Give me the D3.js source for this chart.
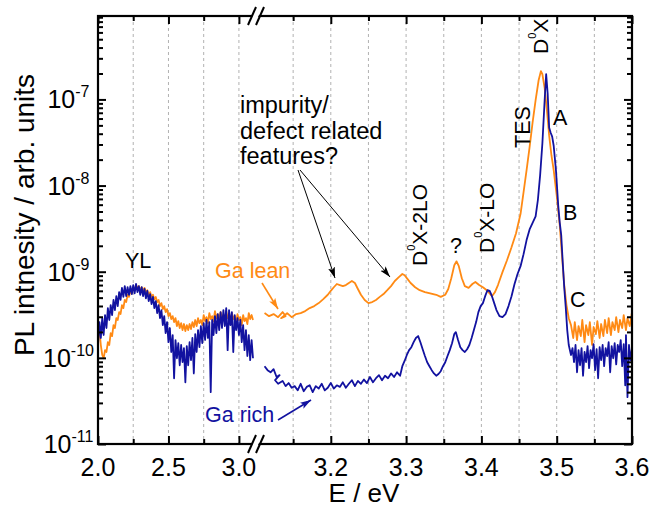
<!DOCTYPE html>
<html>
<head>
<meta charset="utf-8">
<script src="https://cdn.jsdelivr.net/npm/d3@7"></script>
<style>
  html, body { margin: 0; padding: 0; background: #fff; }
  svg { display: block; font-family: "Liberation Sans", Arial, Helvetica, sans-serif; }
</style>
</head>
<body>
<svg id="chart" width="651" height="510"></svg>
<script>
// PL spectra: [photon energy (eV), intensity (arb. units)]
// Low-energy window 2.0 - 3.1 eV (yellow luminescence band)
const gaLeanLow = [
  [2.00,1.84e-10],[2.01,2.10e-10],[2.02,1.41e-10],[2.03,1.08e-10],[2.04,9.9e-11],[2.05,1.23e-10],
  [2.06,1.17e-10],[2.07,1.52e-10],[2.08,1.41e-10],[2.09,1.94e-10],[2.10,1.79e-10],[2.11,2.40e-10],
  [2.12,2.22e-10],[2.13,2.89e-10],[2.14,2.75e-10],[2.15,3.40e-10],[2.16,3.22e-10],[2.17,4.10e-10],
  [2.18,3.78e-10],[2.19,4.70e-10],[2.20,4.44e-10],[2.21,5.40e-10],[2.22,5.10e-10],[2.23,6.00e-10],
  [2.24,5.60e-10],[2.25,6.50e-10],[2.26,6.10e-10],[2.27,7.00e-10],[2.28,6.50e-10],[2.29,6.80e-10],
  [2.30,6.10e-10],[2.31,6.60e-10],[2.32,6.00e-10],[2.33,6.50e-10],[2.34,5.80e-10],[2.35,6.10e-10],
  [2.36,5.40e-10],[2.37,5.80e-10],[2.38,5.10e-10],[2.39,5.40e-10],[2.40,4.80e-10],[2.41,5.10e-10],
  [2.42,4.44e-10],[2.43,4.70e-10],[2.44,3.99e-10],[2.45,4.32e-10],[2.46,3.68e-10],[2.47,3.99e-10],
  [2.48,3.40e-10],[2.49,3.68e-10],[2.50,3.05e-10],[2.51,3.31e-10],[2.52,2.82e-10],[2.53,3.05e-10],
  [2.54,2.60e-10],[2.55,2.89e-10],[2.56,2.34e-10],[2.57,2.67e-10],[2.58,2.22e-10],[2.59,2.53e-10],
  [2.60,2.10e-10],[2.61,2.47e-10],[2.62,2.05e-10],[2.63,2.40e-10],[2.64,2.10e-10],[2.65,2.47e-10],
  [2.66,2.16e-10],[2.67,2.60e-10],[2.68,2.28e-10],[2.69,2.75e-10],[2.70,2.34e-10],[2.71,2.89e-10],
  [2.72,2.53e-10],[2.73,2.75e-10],[2.74,2.40e-10],[2.75,3.14e-10],[2.76,2.67e-10],[2.77,2.97e-10],
  [2.78,2.53e-10],[2.79,3.31e-10],[2.80,2.82e-10],[2.81,3.05e-10],[2.82,2.67e-10],[2.83,3.49e-10],
  [2.84,2.89e-10],[2.85,3.22e-10],[2.86,2.75e-10],[2.87,3.40e-10],[2.88,2.97e-10],[2.89,3.14e-10],
  [2.90,2.67e-10],[2.91,3.49e-10],[2.92,2.89e-10],[2.93,3.22e-10],[2.94,2.60e-10],[2.95,3.31e-10],
  [2.96,2.82e-10],[2.97,3.05e-10],[2.98,2.53e-10],[2.99,3.22e-10],[3.00,2.75e-10],[3.01,2.97e-10],
  [3.02,2.40e-10],[3.03,3.14e-10],[3.04,2.67e-10],[3.05,2.89e-10],[3.06,2.47e-10],[3.07,3.31e-10],
  [3.08,2.82e-10],[3.09,3.14e-10],[3.10,2.75e-10]
];

const gaRichLow = [
  [2.00,1.41e-10],[2.01,2.60e-10],[2.02,1.70e-10],[2.03,2.89e-10],[2.04,1.84e-10],[2.05,3.14e-10],
  [2.06,2.22e-10],[2.07,3.78e-10],[2.08,2.75e-10],[2.09,4.10e-10],[2.10,3.14e-10],[2.11,4.70e-10],
  [2.12,3.59e-10],[2.13,5.20e-10],[2.14,3.99e-10],[2.15,5.80e-10],[2.16,4.70e-10],[2.17,6.50e-10],
  [2.18,5.10e-10],[2.19,6.80e-10],[2.20,5.20e-10],[2.21,6.60e-10],[2.22,5.40e-10],[2.23,6.80e-10],
  [2.24,5.50e-10],[2.25,7.00e-10],[2.26,5.60e-10],[2.27,7.20e-10],[2.28,5.80e-10],[2.29,6.80e-10],
  [2.30,5.40e-10],[2.31,6.60e-10],[2.32,5.20e-10],[2.33,6.30e-10],[2.34,4.90e-10],[2.35,6.00e-10],
  [2.36,4.56e-10],[2.37,5.50e-10],[2.38,4.21e-10],[2.39,5.10e-10],[2.40,3.78e-10],[2.41,4.56e-10],
  [2.42,3.31e-10],[2.43,4.10e-10],[2.44,2.89e-10],[2.45,3.59e-10],[2.46,2.40e-10],[2.47,3.05e-10],
  [2.48,1.94e-10],[2.49,2.60e-10],[2.50,1.52e-10],[2.51,2.22e-10],[2.52,1.17e-10],[2.53,1.84e-10],
  [2.54,5.8e-11],[2.55,1.61e-10],[2.56,9.9e-11],[2.57,1.48e-10],[2.58,8.2e-11],[2.59,1.41e-10],
  [2.60,8.9e-11],[2.61,1.30e-10],[2.62,5.2e-11],[2.63,1.37e-10],[2.64,8.2e-11],[2.65,1.52e-10],
  [2.66,9.4e-11],[2.67,1.70e-10],[2.68,6.6e-11],[2.69,1.89e-10],[2.70,1.17e-10],[2.71,2.10e-10],
  [2.72,1.33e-10],[2.73,2.34e-10],[2.74,1.48e-10],[2.75,2.53e-10],[2.76,1.61e-10],[2.77,2.75e-10],
  [2.78,1.70e-10],[2.79,2.60e-10],[2.80,4.0e-11],[2.81,2.75e-10],[2.82,1.84e-10],[2.83,3.05e-10],
  [2.84,1.94e-10],[2.85,3.22e-10],[2.86,2.10e-10],[2.87,3.40e-10],[2.88,2.22e-10],[2.89,3.59e-10],
  [2.90,2.34e-10],[2.91,3.78e-10],[2.92,1.23e-10],[2.93,3.59e-10],[2.94,2.40e-10],[2.95,3.40e-10],
  [2.96,1.17e-10],[2.97,3.14e-10],[2.98,2.10e-10],[2.99,2.89e-10],[3.00,1.84e-10],[3.01,2.75e-10],
  [3.02,1.52e-10],[3.03,2.40e-10],[3.04,1.23e-10],[3.05,2.10e-10],[3.06,1.05e-10],[3.07,1.84e-10],
  [3.08,9.4e-11],[3.09,1.61e-10],[3.10,9.9e-11]
];

// High-energy window 3.1 - 3.6 eV (near band edge)
const gaLeanHigh = [
  [3.112,3.31e-10],[3.118,3.05e-10],[3.124,3.22e-10],[3.130,2.97e-10],[3.136,3.40e-10],[3.140,3.05e-10],
  [3.134,2.89e-10],[3.142,3.31e-10],[3.148,2.97e-10],[3.154,3.22e-10],[3.160,3.31e-10],[3.166,3.49e-10],
  [3.172,3.78e-10],[3.178,3.99e-10],[3.184,4.32e-10],[3.190,4.80e-10],[3.196,5.40e-10],[3.200,6.00e-10],
  [3.204,6.60e-10],[3.208,7.20e-10],[3.212,7.00e-10],[3.216,6.80e-10],[3.220,7.00e-10],[3.224,7.40e-10],
  [3.228,7.80e-10],[3.232,7.40e-10],[3.236,6.30e-10],[3.240,5.40e-10],[3.245,4.70e-10],[3.250,4.32e-10],
  [3.255,4.44e-10],[3.260,4.70e-10],[3.265,5.10e-10],[3.270,5.50e-10],[3.275,6.10e-10],[3.280,6.80e-10],
  [3.285,7.80e-10],[3.290,8.60e-10],[3.295,9.40e-10],[3.298,9.10e-10],[3.302,8.20e-10],[3.306,7.40e-10],
  [3.312,6.60e-10],[3.318,6.10e-10],[3.325,5.80e-10],[3.332,5.60e-10],[3.340,5.40e-10],[3.346,5.10e-10],
  [3.352,5.40e-10],[3.356,6.30e-10],[3.360,8.40e-10],[3.364,1.19e-9],[3.367,1.32e-9],[3.370,1.16e-9],
  [3.374,8.40e-10],[3.378,6.80e-10],[3.383,6.50e-10],[3.388,7.20e-10],[3.392,7.60e-10],[3.397,7.00e-10],
  [3.402,6.60e-10],[3.408,6.00e-10],[3.414,5.20e-10],[3.418,5.80e-10],[3.422,7.00e-10],[3.428,9.90e-10],
  [3.434,1.36e-9],[3.440,1.92e-9],[3.446,2.80e-9],[3.452,4.70e-9],[3.456,8.40e-9],[3.460,1.51e-8],
  [3.464,2.80e-8],[3.468,5.40e-8],[3.472,9.80e-8],[3.476,1.67e-7],[3.479,2.13e-7],[3.481,1.96e-7],
  [3.484,1.35e-7],[3.487,7.50e-8],[3.490,3.80e-8],[3.493,2.25e-8],[3.496,1.51e-8],[3.500,7.70e-9],
  [3.504,3.50e-9],[3.507,1.56e-9],[3.510,7.00e-10],[3.513,4.10e-10],[3.516,2.89e-10],
  [3.519,2.40e-10],[3.522,1.70e-10],[3.524,2.60e-10],[3.527,1.61e-10],[3.529,2.34e-10],[3.532,1.79e-10],
  [3.534,2.75e-10],[3.537,1.52e-10],[3.539,2.40e-10],[3.542,1.84e-10],[3.544,2.60e-10],[3.547,1.41e-10],
  [3.549,2.28e-10],[3.552,1.89e-10],[3.554,2.67e-10],[3.557,1.70e-10],[3.559,2.47e-10],[3.562,1.79e-10],
  [3.564,2.75e-10],[3.567,1.94e-10],[3.569,2.89e-10],[3.572,1.84e-10],[3.574,2.60e-10],[3.577,2.10e-10],
  [3.579,2.97e-10],[3.582,1.99e-10],[3.584,2.75e-10],[3.587,2.22e-10],[3.589,3.14e-10],[3.592,2.10e-10],
  [3.594,2.89e-10],[3.597,2.34e-10],[3.600,3.40e-10]
];

const gaRichHigh = [
  [3.112,8.0e-11],[3.116,7.2e-11],[3.120,6.8e-11],[3.124,7.4e-11],[3.128,6.0e-11],[3.132,6.3e-11],
  [3.126,5.5e-11],[3.130,5.0e-11],[3.136,5.4e-11],[3.140,4.7e-11],[3.144,5.1e-11],[3.148,4.5e-11],
  [3.152,4.7e-11],[3.156,4.2e-11],[3.160,5.0e-11],[3.164,4.1e-11],[3.168,4.6e-11],[3.172,4.8e-11],
  [3.176,4.0e-11],[3.180,4.7e-11],[3.184,4.4e-11],[3.188,5.0e-11],[3.192,4.2e-11],[3.196,4.5e-11],
  [3.200,5.1e-11],[3.204,4.4e-11],[3.208,4.8e-11],[3.212,4.6e-11],[3.216,5.2e-11],[3.220,4.5e-11],
  [3.224,5.0e-11],[3.228,5.5e-11],[3.232,4.7e-11],[3.236,5.4e-11],[3.240,5.0e-11],[3.244,5.6e-11],
  [3.248,5.1e-11],[3.252,6.0e-11],[3.256,5.2e-11],[3.260,5.8e-11],[3.264,6.3e-11],[3.268,5.5e-11],
  [3.272,6.2e-11],[3.276,5.8e-11],[3.280,6.6e-11],[3.284,6.0e-11],[3.288,6.8e-11],[3.292,6.2e-11],
  [3.295,8.0e-11],[3.298,9.2e-11],[3.301,1.08e-10],[3.304,1.23e-10],[3.307,1.33e-10],[3.310,1.52e-10],
  [3.313,1.70e-10],[3.316,1.79e-10],[3.319,1.52e-10],[3.322,1.26e-10],[3.325,1.05e-10],[3.328,8.9e-11],
  [3.331,8.0e-11],[3.334,7.2e-11],[3.337,6.6e-11],[3.340,6.2e-11],[3.343,6.5e-11],[3.346,7.0e-11],
  [3.349,8.0e-11],[3.352,8.9e-11],[3.355,1.05e-10],[3.358,1.23e-10],[3.361,1.48e-10],[3.364,1.89e-10],
  [3.366,1.99e-10],[3.369,1.61e-10],[3.372,1.33e-10],[3.375,1.23e-10],[3.378,1.17e-10],[3.381,1.26e-10],
  [3.384,1.41e-10],[3.387,1.70e-10],[3.390,2.10e-10],[3.393,2.60e-10],[3.396,3.40e-10],[3.399,3.99e-10],
  [3.402,4.32e-10],[3.405,5.20e-10],[3.408,6.10e-10],[3.411,6.00e-10],[3.414,5.20e-10],[3.417,4.32e-10],
  [3.420,3.59e-10],[3.424,3.05e-10],[3.428,2.97e-10],[3.432,3.22e-10],[3.436,3.99e-10],[3.440,5.20e-10],
  [3.444,7.20e-10],[3.448,9.40e-10],[3.452,1.16e-9],[3.456,1.60e-9],[3.460,2.33e-9],[3.464,3.10e-9],
  [3.468,3.70e-9],[3.472,4.40e-9],[3.475,6.80e-9],[3.478,1.32e-8],[3.481,3.10e-8],[3.484,9.80e-8],
  [3.486,1.96e-7],[3.488,1.17e-7],[3.490,4.70e-8],[3.492,4.10e-8],[3.494,3.70e-8],[3.496,2.90e-8],
  [3.499,1.51e-8],[3.502,5.90e-9],[3.504,3.75e-9],[3.506,2.66e-9],[3.508,1.29e-9],[3.510,6.60e-10],
  [3.512,3.88e-10],[3.514,2.10e-10],[3.516,1.41e-10],[3.519,1.08e-10],
  [3.521,1.30e-10],[3.523,8.9e-11],[3.525,1.41e-10],[3.527,6.8e-11],[3.529,1.23e-10],[3.531,8.2e-11],
  [3.533,1.30e-10],[3.535,6.2e-11],[3.537,1.17e-10],[3.539,8.9e-11],[3.541,1.37e-10],[3.543,7.6e-11],
  [3.545,1.23e-10],[3.547,9.9e-11],[3.549,1.44e-10],[3.551,7.2e-11],[3.553,1.26e-10],[3.555,5.8e-11],
  [3.557,1.33e-10],[3.559,9.4e-11],[3.561,1.41e-10],[3.563,8.0e-11],[3.565,1.30e-10],[3.567,1.05e-10],
  [3.569,1.52e-10],[3.571,6.8e-11],[3.573,1.37e-10],[3.575,9.9e-11],[3.577,1.48e-10],[3.579,8.4e-11],
  [3.581,1.41e-10],[3.583,1.17e-10],[3.585,1.61e-10],[3.587,8.0e-11],[3.589,1.44e-10],[3.591,4.8e-11],
  [3.592,1.84e-10],[3.594,3.5e-11],[3.596,1.41e-10],[3.598,9.4e-11],[3.600,1.30e-10]
];

// Axis ticks
const lowMajorTicks  = [2.0, 2.5, 3.0];
const lowMinorTicks  = [2.25, 2.75];
const highMajorTicks = [3.2, 3.3, 3.4, 3.5, 3.6];
const highMinorTicks = [3.15, 3.25, 3.35, 3.45, 3.55];
const decadeExponents = [-11, -10, -9, -8, -7];

const ORANGE = "#ff8a14";
const BLUE = "#1212a0";

const svg = d3.select("#chart");
const P = { left: 98, right: 632, top: 16, bottom: 444 };

// Broken energy axis: two linear segments
const xLow  = d3.scaleLinear().domain([2.0, 3.1]).range([P.left, 253]);
const xHigh = d3.scaleLinear().domain([3.1, 3.6]).range([255.5, P.right]);
const y = d3.scaleLog().domain([1e-11, 9.3e-7]).range([P.bottom, P.top]);

// Vertical dashed grid
const gridLow = lowMajorTicks.concat(lowMinorTicks).filter(d => d > 2.0);
const gridHigh = highMajorTicks.concat(highMinorTicks).filter(d => d < 3.6);
const grid = svg.append("g").attr("stroke", "#a8a8a8").attr("stroke-width", 0.9)
  .attr("stroke-dasharray", "3,3");
grid.selectAll("line.lo").data(gridLow).join("line").attr("class", "lo")
  .attr("x1", d => xLow(d)).attr("x2", d => xLow(d)).attr("y1", P.top).attr("y2", P.bottom);
grid.selectAll("line.hi").data(gridHigh).join("line").attr("class", "hi")
  .attr("x1", d => xHigh(d)).attr("x2", d => xHigh(d)).attr("y1", P.top).attr("y2", P.bottom);

// Spectra
const lineLow = d3.line().x(d => xLow(d[0])).y(d => y(d[1]));
const lineHigh = d3.line().x(d => xHigh(d[0])).y(d => y(d[1]));
const curves = svg.append("g").attr("fill", "none").attr("stroke-width", 1.8)
  .attr("stroke-linejoin", "round");
curves.append("path").datum(gaLeanLow).attr("d", lineLow).attr("stroke", ORANGE);
curves.append("path").datum(gaLeanHigh).attr("d", lineHigh).attr("stroke", ORANGE);
curves.append("path").datum(gaRichLow).attr("d", lineLow).attr("stroke", BLUE);
curves.append("path").datum(gaRichHigh).attr("d", lineHigh).attr("stroke", BLUE);

// Frame
svg.append("rect").attr("x", P.left).attr("y", P.top)
  .attr("width", P.right - P.left).attr("height", P.bottom - P.top)
  .attr("fill", "none").attr("stroke", "#000").attr("stroke-width", 2.2);

// Inward tick marks on all four sides
function ticks(axisGen, transform, size) {
  const g = svg.append("g").attr("transform", transform).call(axisGen.tickSize(-size).tickFormat(""));
  g.select(".domain").remove();
  g.selectAll(".tick line").attr("stroke", "#000").attr("stroke-width", 2);
  return g;
}
[["bottom", `translate(0,${P.bottom})`], ["top", `translate(0,${P.top})`]].forEach(([side, tr]) => {
  const mk = side === "bottom" ? d3.axisBottom : d3.axisTop;
  ticks(mk(xLow).tickValues(lowMajorTicks), tr, 8);
  ticks(mk(xLow).tickValues(lowMinorTicks), tr, 5);
  ticks(mk(xHigh).tickValues(highMajorTicks), tr, 8);
  ticks(mk(xHigh).tickValues(highMinorTicks), tr, 5);
});
const decades = decadeExponents.map(e => Math.pow(10, e));
const minorY = [];
decadeExponents.forEach(e => { for (let k = 2; k <= 9; k++) minorY.push(k * Math.pow(10, e)); });
const minorYVisible = minorY.filter(v => v <= 9.3e-7);
ticks(d3.axisLeft(y).tickValues(decades), `translate(${P.left},0)`, 8);
ticks(d3.axisLeft(y).tickValues(minorYVisible), `translate(${P.left},0)`, 5);
ticks(d3.axisRight(y).tickValues(decades), `translate(${P.right},0)`, 8);
ticks(d3.axisRight(y).tickValues(minorYVisible), `translate(${P.right},0)`, 5);

// Axis break marks
[P.bottom, P.top].forEach(yy => {
  const bx = 257;
  svg.append("polygon")
    .attr("points", `${bx-8},${yy+8} ${bx-1},${yy-8} ${bx+5},${yy-8} ${bx-2},${yy+8}`)
    .attr("fill", "#fff");
  svg.append("line").attr("x1", bx - 9).attr("y1", yy + 9).attr("x2", bx - 1).attr("y2", yy - 9)
    .attr("stroke", "#000").attr("stroke-width", 2);
  svg.append("line").attr("x1", bx - 1).attr("y1", yy + 9).attr("x2", bx + 7).attr("y2", yy - 9)
    .attr("stroke", "#000").attr("stroke-width", 2);
});

// Tick labels
const fmt = d3.format(".1f");
const xLabels = svg.append("g").attr("font-size", 25).attr("text-anchor", "middle").attr("fill", "#000");
xLabels.selectAll("text.lo").data(lowMajorTicks).join("text").attr("class", "lo")
  .attr("x", d => xLow(d)).attr("y", 476).text(fmt);
xLabels.selectAll("text.hi").data(highMajorTicks).join("text").attr("class", "hi")
  .attr("x", d => xHigh(d)).attr("y", 476).text(fmt);

const yLabels = svg.append("g").attr("text-anchor", "middle").attr("fill", "#000");
decadeExponents.forEach(e => {
  const t = yLabels.append("text").attr("x", 68.5).attr("y", y(Math.pow(10, e)) + 9).attr("font-size", 25);
  t.append("tspan").text("10");
  t.append("tspan").attr("font-size", 16).attr("dy", -11).text(String(e));
});

// Axis titles
svg.append("text").attr("x", 364).attr("y", 502).attr("text-anchor", "middle")
  .attr("font-size", 26).text("E / eV");
svg.append("text").attr("transform", "translate(34,215) rotate(-90)").attr("text-anchor", "middle")
  .attr("font-size", 28).text("PL intnesity / arb. units");

// Arrowheads
const defs = svg.append("defs");
[["arrBlack", "#000"], ["arrOrange", ORANGE], ["arrBlue", BLUE]].forEach(([id, c]) => {
  defs.append("marker").attr("id", id).attr("markerUnits", "userSpaceOnUse")
    .attr("markerWidth", 12).attr("markerHeight", 8).attr("refX", 11).attr("refY", 4)
    .attr("orient", "auto")
    .append("path").attr("d", "M0,0.5 L11,4 L0,7.5 L2.5,4 Z").attr("fill", c);
});

// Annotations
const ann = svg.append("g").attr("fill", "#000");
ann.append("text").attr("x", 125).attr("y", 268).attr("font-size", 21.5).text("YL");
const imp = ann.append("text").attr("font-size", 23.5);
[["impurity/", 113], ["defect related", 138.5], ["features?", 164]].forEach(([s, yy]) =>
  imp.append("tspan").attr("x", 240).attr("y", yy).text(s));
svg.append("line").attr("x1", 298).attr("y1", 170).attr("x2", 335).attr("y2", 278)
  .attr("stroke", "#000").attr("stroke-width", 1).attr("marker-end", "url(#arrBlack)");
svg.append("line").attr("x1", 300).attr("y1", 170).attr("x2", 390).attr("y2", 277)
  .attr("stroke", "#000").attr("stroke-width", 1).attr("marker-end", "url(#arrBlack)");

function rotatedDX(x, y0, rest) {
  const t = ann.append("text").attr("transform", `translate(${x},${y0}) rotate(-90)`).attr("font-size", 21);
  t.append("tspan").text("D");
  t.append("tspan").attr("font-size", 11).attr("dy", -12).text("0");
  t.append("tspan").attr("dy", 12).text(rest);
}
rotatedDX(427, 266, "X-2LO");
rotatedDX(494, 253, "X-LO");
rotatedDX(548, 54, "X");
ann.append("text").attr("x", 456).attr("y", 253).attr("text-anchor", "middle").attr("font-size", 21.5).text("?");
ann.append("text").attr("transform", "translate(530,148) rotate(-90)").attr("font-size", 21.5).text("TES");
ann.append("text").attr("x", 553).attr("y", 125).attr("font-size", 21.5).text("A");
ann.append("text").attr("x", 563).attr("y", 220).attr("font-size", 21.5).text("B");
ann.append("text").attr("x", 570).attr("y", 307).attr("font-size", 21.5).text("C");

// Sample labels
svg.append("text").attr("x", 215).attr("y", 278).attr("font-size", 21.5).attr("fill", ORANGE).text("Ga lean");
svg.append("line").attr("x1", 262).attr("y1", 283).attr("x2", 278).attr("y2", 309)
  .attr("stroke", ORANGE).attr("stroke-width", 1.6).attr("marker-end", "url(#arrOrange)");
svg.append("text").attr("x", 205).attr("y", 422).attr("font-size", 21.5).attr("fill", BLUE).text("Ga rich");
svg.append("line").attr("x1", 278).attr("y1", 420).attr("x2", 311).attr("y2", 400)
  .attr("stroke", BLUE).attr("stroke-width", 1.6).attr("marker-end", "url(#arrBlue)");
</script>
</body>
</html>
